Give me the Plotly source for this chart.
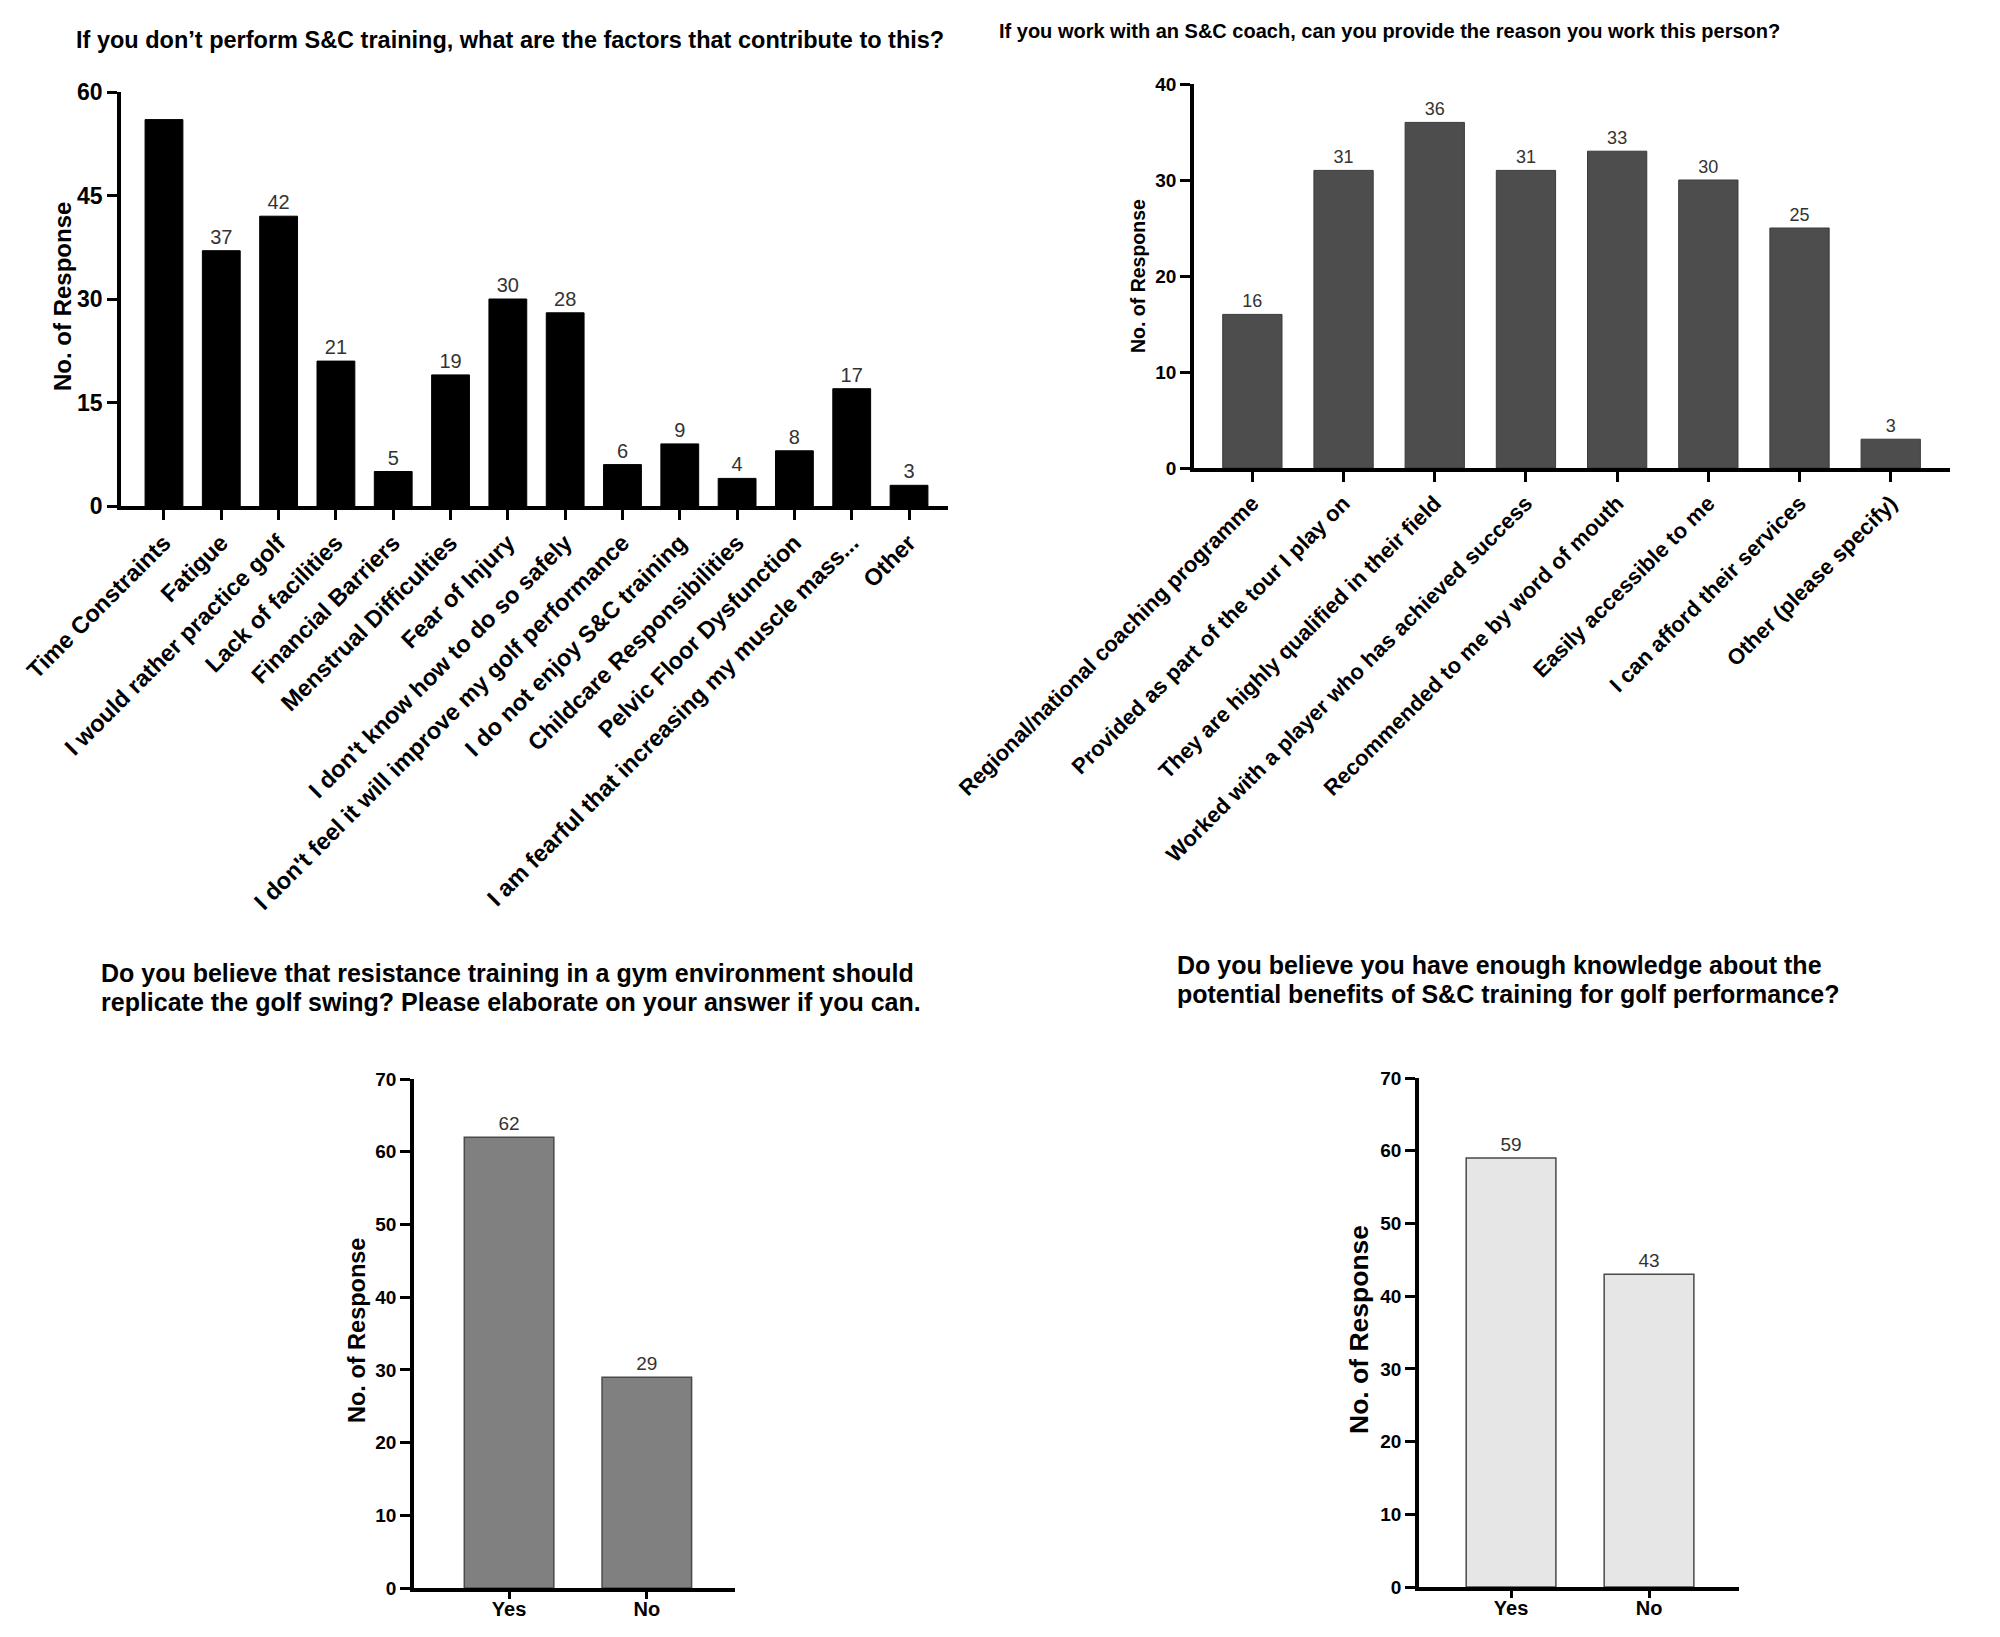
import plotly.graph_objects as go

# ---------------- data ----------------
factors = [
    "Time Constraints", "Fatigue", "I would rather practice golf", "Lack of facilities",
    "Financial Barriers", "Menstrual Difficulties", "Fear of Injury",
    "I don't know how to do so safely", "I don't feel it will improve my golf performance",
    "I do not enjoy S&C training", "Childcare Responsibilities", "Pelvic Floor Dysfunction",
    "I am fearful that increasing my muscle mass...", "Other",
]
factor_counts = [56, 37, 42, 21, 5, 19, 30, 28, 6, 9, 4, 8, 17, 3]
factor_label_shown = [False] + [True] * 13

reasons = [
    "Regional/national coaching programme", "Provided as part of the tour I play on",
    "They are highly qualified in their field", "Worked with a player who has achieved success",
    "Recommended to me by word of mouth", "Easily accessible to me",
    "I can afford their services", "Other (please specify)",
]
reason_counts = [16, 31, 36, 31, 33, 30, 25, 3]

yes_no = ["Yes", "No"]
replicate_counts = [62, 29]
knowledge_counts = [59, 43]

title1 = "If you don’t perform S&C training, what are the factors that contribute to this?"
title2 = "If you work with an S&C coach, can you provide the reason you work this person?"
title3_lines = ["Do you believe that resistance training in a gym environment should",
                "replicate the golf swing? Please elaborate on your answer if you can."]
title4_lines = ["Do you believe you have enough knowledge about the",
                "potential benefits of S&C training for golf performance?"]
ylabel = "No. of Response"

FONT = "Liberation Sans, Arial, Helvetica, sans-serif"
OFF = 8                       # default page body margin
FW, FH = 2000 - 2 * OFF, 1637 - 2 * OFF

fig = go.Figure()

def px(x):
    return (x - OFF) / FW

def py(y):
    return 1 - (y - OFF) / FH

def bar(cats, vals, texts, color, line_color, line_w, width, size, xa, ya):
    return go.Bar(
        x=list(range(len(cats))), y=vals, text=texts,
        textposition="outside", cliponaxis=False,
        outsidetextfont=dict(size=size, color="#333", family=FONT),
        marker=dict(color=color, line=dict(color=line_color, width=line_w)),
        width=width, xaxis=xa, yaxis=ya, showlegend=False, hoverinfo="x+y",
    )

fig.add_trace(bar(factors, factor_counts,
                  [str(v) if s else "" for v, s in zip(factor_counts, factor_label_shown)],
                  "black", "black", 1, 0.66, 20, "x", "y"))
fig.add_trace(bar(reasons, reason_counts, [str(v) for v in reason_counts],
                  "#4d4d4d", "#3a3a3a", 1, 0.65, 18, "x2", "y2"))
fig.add_trace(bar(yes_no, replicate_counts, [str(v) for v in replicate_counts],
                  "#808080", "#4a4a4a", 1.5, 0.65, 19, "x3", "y3"))
fig.add_trace(bar(yes_no, knowledge_counts, [str(v) for v in knowledge_counts],
                  "#e6e6e6", "#4a4a4a", 1.5, 0.65, 19, "x4", "y4"))

def xaxis(domain, rng, labels, anchor, size, angle, standoff=0, ticklen=10):
    return dict(
        domain=domain, range=rng, anchor=anchor, automargin=False,
        tickmode="array", tickvals=list(range(len(labels))), ticktext=labels,
        tickangle=angle, showline=True, linecolor="black", linewidth=3.5,
        ticks="outside", ticklen=ticklen, tickwidth=3, tickcolor="black",
        ticklabelstandoff=standoff,
        showgrid=False, zeroline=False, fixedrange=True,
        tickfont=dict(family=FONT, size=size, color="black", weight="bold"),
    )

def yaxis(domain, rng, dtick, anchor, size):
    return dict(
        domain=domain, range=rng, anchor=anchor, dtick=dtick, tick0=0, automargin=False,
        showline=True, linecolor="black", linewidth=3.5,
        ticks="outside", ticklen=10, tickwidth=3, tickcolor="black",
        showgrid=False, zeroline=False, fixedrange=True,
        tickfont=dict(family=FONT, size=size, color="black", weight="bold"),
    )

fig.update_layout(
    width=FW, height=FH, margin=dict(l=0, r=0, t=0, b=0, autoexpand=False),
    paper_bgcolor="white", plot_bgcolor="white",
    font=dict(family=FONT, color="black"),
    xaxis=xaxis([px(121), px(948)], [-0.75, 13.68], factors, "y", 23.5, -45),
    yaxis=yaxis([py(506), py(92)], [0, 60], 15, "x", 23),
    xaxis2=xaxis([px(1194), px(1950)], [-0.64, 7.65], reasons, "y2", 22, -45),
    yaxis2=yaxis([py(468), py(84)], [0, 40], 10, "x2", 19),
    xaxis3=xaxis([px(414), px(735)], [-0.69, 1.64], yes_no, "y3", 20, 0, -7, 7),
    yaxis3=yaxis([py(1588), py(1079)], [0, 70], 10, "x3", 19),
    xaxis4=xaxis([px(1419), px(1739)], [-0.667, 1.652], yes_no, "y4", 20, 0, -7, 7),
    yaxis4=yaxis([py(1587), py(1078)], [0, 70], 10, "x4", 19),
)

def text(t, x, y, size, xanchor="center", angle=0):
    fig.add_annotation(text="<b>%s</b>" % t, x=px(x), y=py(y), xref="paper", yref="paper",
                       xanchor=xanchor, yanchor="middle", showarrow=False, textangle=angle,
                       font=dict(family=FONT, size=size, color="black"))

text(title1, 510, 40, 23.5)
text(title2, 1389, 31, 20)
text(title3_lines[0], 99, 973, 25, "left")
text(title3_lines[1], 99, 1002, 25, "left")
text(title4_lines[0], 1175, 965, 25, "left")
text(title4_lines[1], 1175, 994, 25, "left")

for x, y, s in [(62, 297, 24), (1138, 276, 19.5), (357, 1331, 23.5), (1359, 1330, 26.5)]:
    text(ylabel, x, y, s, "center", -90)

fig.write_html("out.html")
